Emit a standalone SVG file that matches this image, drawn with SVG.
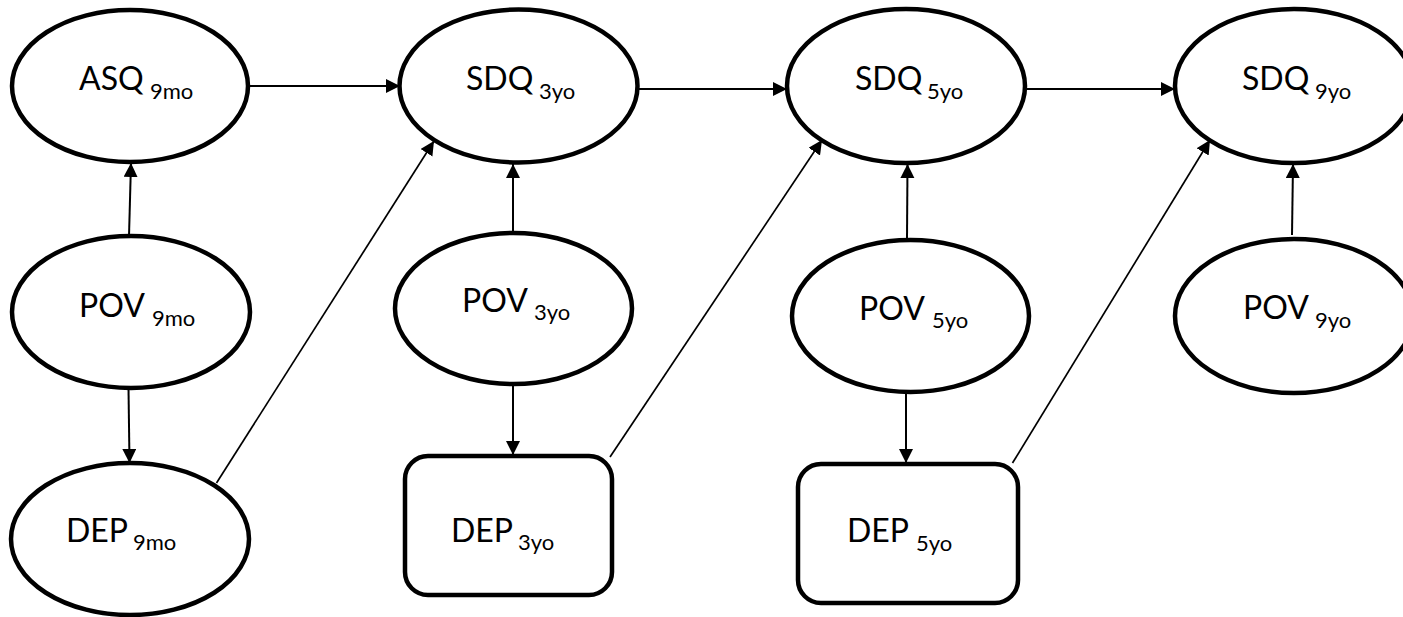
<svg xmlns="http://www.w3.org/2000/svg" width="1403" height="617" viewBox="0 0 1403 617">
<style>
.n{fill:#fff;stroke:#000;stroke-width:4.5}
.t{font-family:Lato,"Open Sans","Liberation Sans",sans-serif;font-size:32px;fill:#000}
.s{font-size:22px}
.c line{stroke:#000;stroke-width:2;fill:none}
.c line.d{stroke-width:1.7}
</style>
<defs>
<marker id="ah" markerUnits="userSpaceOnUse" markerWidth="15" markerHeight="15" refX="14" refY="7" orient="auto">
<path d="M0,0 L14,7 L0,14 z" fill="#000"/>
</marker>
</defs>
<rect width="1403" height="617" fill="#fff"/>
<g class="c">
<line x1="250" y1="86" x2="400" y2="86" marker-end="url(#ah)"/>
<line x1="638" y1="89" x2="787" y2="89" marker-end="url(#ah)"/>
<line x1="1025" y1="89" x2="1175" y2="89" marker-end="url(#ah)"/>
<line x1="129" y1="236" x2="131" y2="163" marker-end="url(#ah)"/>
<line x1="513" y1="231" x2="513" y2="164" marker-end="url(#ah)"/>
<line x1="907" y1="238" x2="907.5" y2="164" marker-end="url(#ah)"/>
<line x1="1292" y1="235" x2="1293" y2="164" marker-end="url(#ah)"/>
<line x1="128.5" y1="388" x2="129.5" y2="463" marker-end="url(#ah)"/>
<line x1="513" y1="385" x2="513" y2="455" marker-end="url(#ah)"/>
<line x1="906" y1="393" x2="906" y2="463" marker-end="url(#ah)"/>
<line class="d" x1="216.5" y1="483" x2="434" y2="141" marker-end="url(#ah)"/>
<line class="d" x1="610" y1="457" x2="822" y2="140" marker-end="url(#ah)"/>
<line class="d" x1="1012.5" y1="463" x2="1210" y2="140" marker-end="url(#ah)"/>
</g>
<g id="asq9mo"><ellipse class="n" cx="130" cy="86" rx="118" ry="76"/><text class="t" x="79" y="90">ASQ <tspan class="s" x="150" y="99">9mo</tspan></text></g>
<g id="sdq3yo"><ellipse class="n" cx="518.5" cy="86" rx="119" ry="76.5"/><text class="t" x="466" y="90">SDQ <tspan class="s" x="539" y="99">3yo</tspan></text></g>
<g id="sdq5yo"><ellipse class="n" cx="906" cy="86" rx="119" ry="77"/><text class="t" x="855" y="90">SDQ <tspan class="s" x="927" y="99">5yo</tspan></text></g>
<g id="sdq9yo"><ellipse class="n" cx="1294" cy="86" rx="119" ry="77"/><text class="t" x="1242" y="90">SDQ <tspan class="s" x="1315" y="99">9yo</tspan></text></g>
<g id="pov9mo"><ellipse class="n" cx="131" cy="312" rx="119" ry="76"/><text class="t" x="79" y="317">POV <tspan class="s" x="152" y="326">9mo</tspan></text></g>
<g id="pov3yo"><ellipse class="n" cx="513.5" cy="308.5" rx="118.5" ry="75.5"/><text class="t" x="462" y="312">POV <tspan class="s" x="534" y="320">3yo</tspan></text></g>
<g id="pov5yo"><ellipse class="n" cx="910.5" cy="316" rx="118.5" ry="76"/><text class="t" x="859" y="320">POV <tspan class="s" x="932" y="328">5yo</tspan></text></g>
<g id="pov9yo"><ellipse class="n" cx="1294" cy="316" rx="119" ry="77"/><text class="t" x="1243" y="319">POV <tspan class="s" x="1315" y="328">9yo</tspan></text></g>
<g id="dep9mo"><ellipse class="n" cx="130" cy="539" rx="119" ry="76"/><text class="t" x="66" y="542">DEP <tspan class="s" x="133" y="550">9mo</tspan></text></g>
<g id="dep3yo"><rect class="n" x="405" y="456" width="207" height="139" rx="23"/><text class="t" x="451" y="542">DEP <tspan class="s" x="518" y="550">3yo</tspan></text></g>
<g id="dep5yo"><rect class="n" x="798" y="464" width="220" height="139" rx="23"/><text class="t" x="847" y="542">DEP <tspan class="s" x="916" y="551">5yo</tspan></text></g>
</svg>
